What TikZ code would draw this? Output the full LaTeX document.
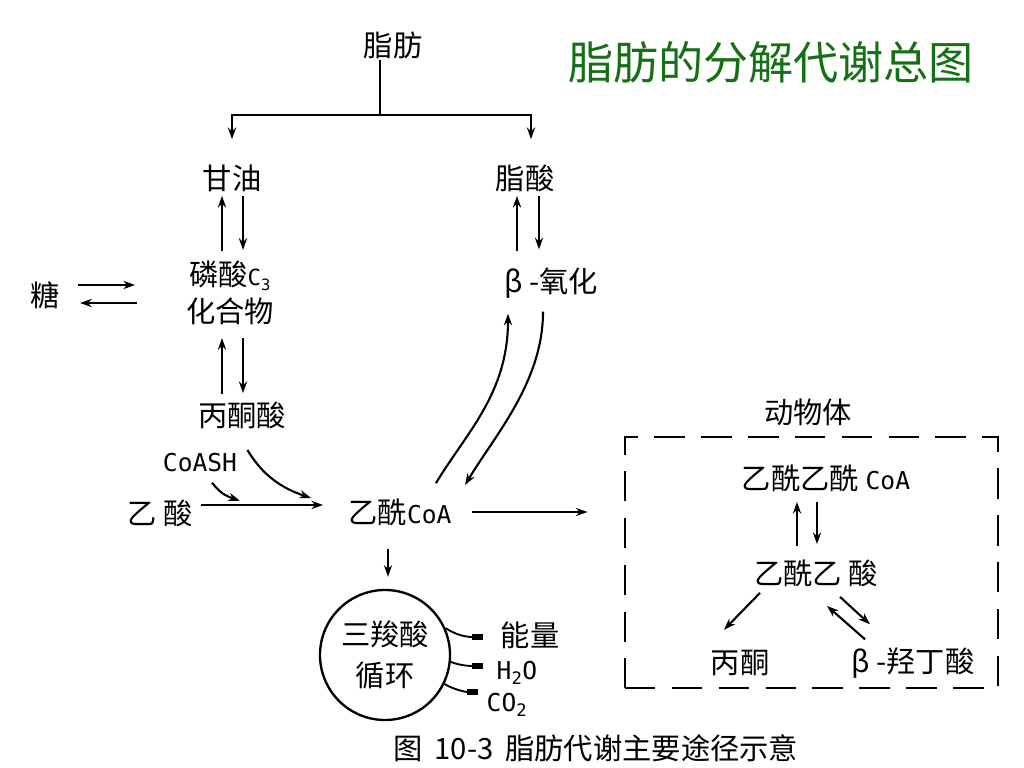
\documentclass[tikz,border=0pt]{standalone}
\usepackage{fontspec}
\setmainfont{Noto Sans CJK SC}
\newfontfamily\lmono{DejaVu Sans Mono}
\usetikzlibrary{arrows.meta}
\definecolor{titlegreen}{RGB}{20,112,20}

\tikzset{
  word/.style={font=\fontsize{25}{31}\selectfont, inner sep=1pt},
  latin/.style={font=\fontsize{21}{24}\selectfont\lmono, inner sep=1pt},
  flow/.style={line width=1.8pt, -{Stealth[length=10pt,width=7pt]}},
  plain/.style={line width=1.8pt},
  outlet/.style={line width=1.6pt, -{Rectangle[length=10pt,width=4.5pt]}},
}
\newcommand{\coatext}{{\lmono\fontsize{21}{24}\selectfont CoA}}

\begin{document}
\begin{tikzpicture}[x=0.03cm, y=-0.03cm]
\useasboundingbox (0,0) rectangle (1024,768);

% title
\node[font=\fontsize{38.5}{44}\selectfont, text=titlegreen] (title) at (771,62) {脂肪的分解代谢总图};

% fat splits into glycerol and fatty acid
\node[word] (fat) at (393,45) {脂肪};
\node[word] (glycerol) at (232,178) {甘油};
\node[word] (fattyacid) at (525,178) {脂酸};
\coordinate (split) at (380,115);
\draw[plain] (fat.south -| split) -- (split);
\draw[flow] (split) -| ([shift={(0,-24)}]glycerol.north);
\draw[flow] (split) -| ([shift={(6,-24)}]fattyacid.north);

% glycerol side
\node[word, align=center] (phos) at (230,293) {磷酸{\lmono\fontsize{19}{20}\selectfont C\textsubscript{3}}\\化合物};
\node[word] (sugar) at (45,295) {糖};
\node[word] (pyruvate) at (242,415) {丙酮酸};
\draw[flow] ([shift={(-8,-9)}]phos.north) -- ([shift={(-10,3)}]glycerol.south);
\draw[flow] ([shift={(11,3)}]glycerol.south) -- ([shift={(13,-10)}]phos.north);
\draw[flow] ([shift={(17,-10)}]sugar.east) -- ([shift={(74,-10)}]sugar.east);
\draw[flow] ([shift={(76,8)}]sugar.east) -- ([shift={(19,8)}]sugar.east);
\draw[flow] ([shift={(-20,-6)}]pyruvate.north) -- ([shift={(-8,12)}]phos.south);
\draw[flow] ([shift={(13,12)}]phos.south) -- ([shift={(1,-7)}]pyruvate.north);

% acetyl CoA
\node[latin] (coash) at (200,463) {CoASH};
\node[word] (acetate) at (160,513) {乙 酸};
\node[word] (acoa) at (400,512) {乙酰\coatext};
\draw[flow] ([shift={(7,-8)}]acetate.east) -- ([shift={(-24,-7)}]acoa.west);
\draw[flow] ([shift={(12,9)}]coash.south) .. controls +(8,10) and +(-15,-5) .. ([shift={(40,27)}]coash.south);
\draw[flow] ([shift={(9,-13)}]coash.east) .. controls +(15,25) and +(-30,-10) .. ([shift={(-36,-14)}]acoa.west);

% beta oxidation
\node[word] (beta) at (551,283) {β -氧化};
\draw[flow] ([shift={(-34,-15)}]beta.north) -- ([shift={(-8,3)}]fattyacid.south);
\draw[flow] ([shift={(14,3)}]fattyacid.south) -- ([shift={(-12,-17)}]beta.north);
\draw[flow] ([shift={(36,-14)}]acoa.north) .. controls +(30,-50) and +(0,80) .. ([shift={(-43,14)}]beta.south);
\draw[flow] ([shift={(-8,12)}]beta.south) .. controls +(0,70) and +(30,-50) .. ([shift={(65,-12)}]acoa.north);

% citric acid cycle
\node[word, draw, circle, line width=2pt, minimum size=3.9cm, align=center, font=\fontsize{25}{35}\selectfont] (tca) at (385,655) {三羧酸\\循环};
\draw[flow] ([shift={(-12,22)}]acoa.south) -- ([shift={(3,-12)}]tca.north);
\node[word] (energy) at (530,635) {能量};
\node[latin] (water) at (517,673) {H\textsubscript{2}O};
\node[latin] (co2) at (507,705) {CO\textsubscript{2}};
\draw[outlet] (tca.24) .. controls +(12,8) and +(-15,0) .. ([shift={(-16,2)}]energy.west);
\draw[outlet] (tca.-6) .. controls +(10,4) and +(-12,0) .. ([shift={(-12,-7)}]water.west);
\draw[outlet] (tca.-26) .. controls +(10,6) and +(-12,0) .. ([shift={(-7,-13)}]co2.west);

% ketone bodies in the animal body
\node[word] (animal) at (808,412) {动物体};
\node[draw, line width=1.9pt, dash pattern=on 26pt off 14pt, minimum width=11.19cm, minimum height=7.53cm] (body) at (811.5,562.5) {};
\draw[flow, shorten <=16pt, shorten >=31pt] (acoa.east) -- (acoa.east -| body.west);
\node[word] (aacoa) at (826,478) {乙酰乙酰 \coatext};
\node[word] (aa) at (816,573) {乙酰乙 酸};
\node[word] (acetone) at (740,663) {丙酮};
\node[word] (hb) at (913,663) {β -羟丁酸};
\draw[flow] ([shift={(-19,-12)}]aa.north) -- ([shift={(-29,9)}]aacoa.south);
\draw[flow] ([shift={(-9,9)}]aacoa.south) -- ([shift={(1,-14)}]aa.north);
\draw[flow] ([shift={(-56,5)}]aa.south) -- ([shift={(-16,-19)}]acetone.north);
\draw[flow] ([shift={(24,9)}]aa.south) -- ([shift={(-43,-22)}]hb.north);
\draw[flow] ([shift={(-48,-7)}]hb.north) -- ([shift={(11,18)}]aa.south);

% caption
\node[word] (caption) at (596,748) {图\hspace{10pt}10-3\hspace{10pt}脂肪代谢主要途径示意};

\end{tikzpicture}
\end{document}
